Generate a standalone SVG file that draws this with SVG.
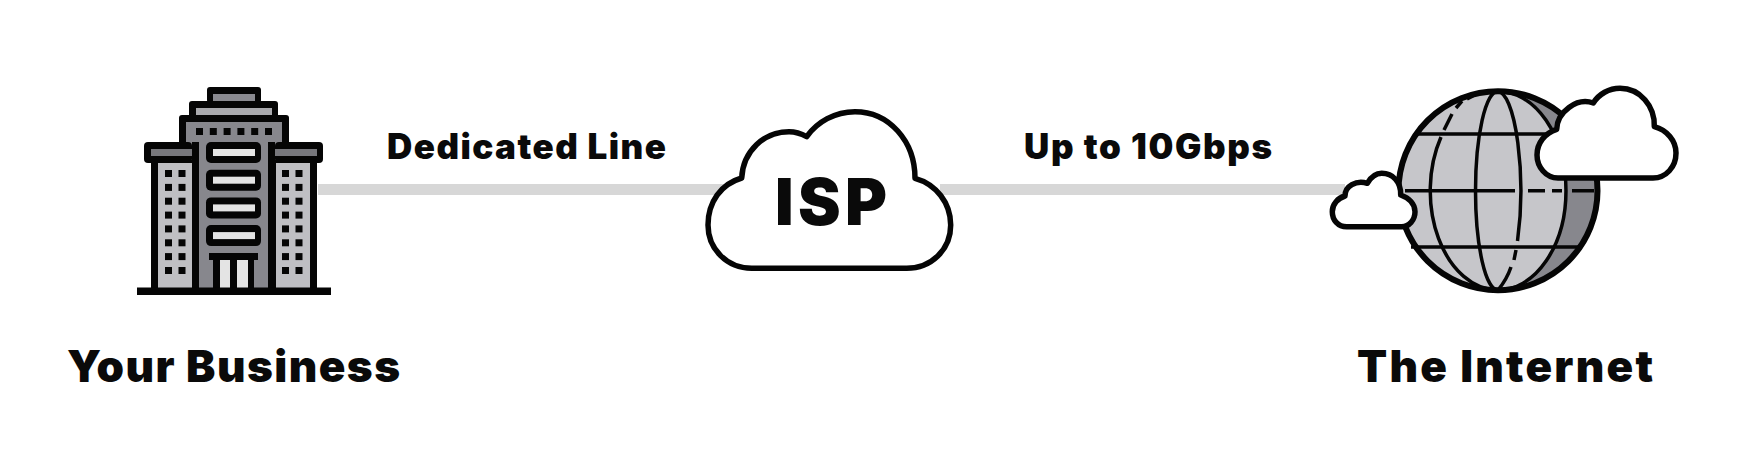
<svg xmlns="http://www.w3.org/2000/svg" width="1746" height="470" viewBox="0 0 1746 470">
<defs>
<style>
text{font-family:Inter,"Liberation Sans",sans-serif;font-weight:900;fill:#0a0a0a}
.t{font-size:44px}.m{font-size:35px}
.k{fill:#050505}.cl{fill:#fff;stroke:#050505;stroke-width:5.500;stroke-linejoin:round}
.gl{fill:none;stroke:#050505;stroke-width:3.500}
.c{stroke:#d7d7d7;stroke-width:11;fill:none}
</style>
<g id="w"><rect x="0" y="0" width="7" height="7" class="k"/><rect x="13.500" y="0" width="7" height="7" class="k"/></g>
<g id="b"><rect x="206" y="142" width="55" height="21" rx="5" class="k"/><rect x="213" y="149" width="42" height="7" fill="#e4e4e4"/></g>
</defs>
<rect width="1746" height="470" fill="#fff"/>
<g id="connectors">
<path class="c" d="M318 189.500H725"/>
<path class="c" d="M940 189.500H1345"/>
</g>
<g id="business">
<rect x="207" y="87" width="54" height="16" rx="3" class="k"/><rect x="213" y="94" width="42" height="7" fill="#8a8a90"/>
<rect x="189" y="101" width="89" height="20" rx="3" class="k"/><rect x="196" y="108" width="76" height="7" fill="#a9a9ad"/>
<rect x="179" y="115" width="110" height="35" rx="3" class="k"/>
<rect x="186" y="122" width="96" height="24" fill="#87878d"/>
<rect x="144" y="142" width="48" height="21" rx="4" class="k"/><rect x="275" y="142" width="48" height="21" rx="4" class="k"/>
<rect x="151" y="149" width="41" height="7" fill="#77777c"/><rect x="275" y="149" width="42" height="7" fill="#77777c"/>
<rect x="151" y="160" width="48" height="130" class="k"/><rect x="268" y="160" width="49" height="130" class="k"/>
<rect x="158" y="163" width="34" height="125" fill="#bfbfc3"/><rect x="276" y="163" width="34" height="125" fill="#bfbfc3"/>
<rect x="192" y="142" width="83" height="148" class="k"/><rect x="199" y="142" width="69" height="146" fill="#87878d"/>
<rect x="186" y="122" width="96" height="20" fill="#87878d"/>
<g class="k"><rect x="196" y="128" width="7" height="7"/><rect x="209.800" y="128" width="7" height="7"/><rect x="223.600" y="128" width="7" height="7"/><rect x="237.400" y="128" width="7" height="7"/><rect x="251.200" y="128" width="7" height="7"/><rect x="265" y="128" width="7" height="7"/></g>
<use href="#b"/><use href="#b" y="27.700"/><use href="#b" y="55.400"/><use href="#b" y="83.100"/>
<rect x="209" y="253" width="49" height="7" class="k"/>
<rect x="213" y="258" width="41" height="31" class="k"/>
<rect x="220" y="260" width="10" height="28" fill="#e4e4e4"/><rect x="237" y="260" width="11" height="28" fill="#e4e4e4"/>
<use href="#w" x="165" y="170"/><use href="#w" x="165" y="183.900"/><use href="#w" x="165" y="197.700"/><use href="#w" x="165" y="211.600"/><use href="#w" x="165" y="225.400"/><use href="#w" x="165" y="239.300"/><use href="#w" x="165" y="253.100"/><use href="#w" x="165" y="267"/>
<use href="#w" x="282" y="170"/><use href="#w" x="282" y="183.900"/><use href="#w" x="282" y="197.700"/><use href="#w" x="282" y="211.600"/><use href="#w" x="282" y="225.400"/><use href="#w" x="282" y="239.300"/><use href="#w" x="282" y="253.100"/><use href="#w" x="282" y="267"/>
<rect x="137" y="287.500" width="194" height="7.500" class="k"/>
<text class="t" x="67" y="381.500" textLength="333">Your Business</text>
</g>
<g id="isp">
<path class="cl" d="M741.700 178C743 151 764 131.700 789 131.700C795 131.700 801 133.500 806.700 136.700C817 122 835 111.700 855 111.700C889 111.700 915 141 915 178.300C936 184 950.700 203 950.700 225C950.700 250 931 268.300 906.700 268.300H751.700C727 268.300 708 249 708 225C708 202 721 184 741.700 178Z"/>
<text x="775" y="225" font-size="64" textLength="112">ISP</text>
</g>
<g id="internet">
<circle cx="1498" cy="190.700" r="99.500" fill="#c6c6ca"/>
<path d="M1498 91.200A99.500 99.500 0 0 1 1498 290.200A68 99.500 0 0 0 1498 91.200Z" fill="#87878d"/>
<path class="gl" d="M1498 91.200A22.500 99.500 0 0 0 1498 290.200"/>
<path class="gl" d="M1498 91.200A23.500 99.500 0 0 1 1517.500 241"/>
<path class="gl" d="M1516 250L1514 260M1511 267C1508 276 1503 284 1498 290.200"/>
<path class="gl" d="M1498 91.200A68 99.500 0 0 1 1498 290.200A68 99.500 0 0 1 1441 137"/>
<path class="gl" d="M1444 130L1452 114M1456 108L1462 101M1467 99L1473 96"/>
<path class="gl" d="M1417 134H1550M1405 190.700H1515M1528 190.700H1545M1552 190.700H1562M1572 190.700H1594M1411 247H1578"/>
<circle cx="1498" cy="190.700" r="99.500" fill="none" stroke="#050505" stroke-width="6"/>
<path class="cl" d="M1345 196C1345 186 1356 180 1367.300 183.300C1371 177 1376 173.300 1381.700 173.300C1393 173.300 1401 182 1400.700 195C1409 198 1415 204 1415 211.700C1415 220 1409 226.700 1401.700 226.700H1346.700C1338 226.700 1332.300 220 1332.300 211.700C1332.300 204 1338 198 1345 196Z"/>
<path class="cl" d="M1556.700 129.300C1557 112 1577 97 1593.300 103C1599 94 1609 88.300 1620 88.300C1640 88.300 1655 106 1654.300 126.700C1667 130 1676 141 1676 153C1676 167 1666 178 1653 178H1558C1546 178 1537 167 1537 155C1537 143 1545 133 1556.700 129.300Z"/>
<text class="t" x="1357" y="381.500" textLength="296">The Internet</text>
</g>
<text class="m" x="387" y="159" textLength="279">Dedicated Line</text>
<text class="m" x="1024" y="159" textLength="248">Up to 10Gbps</text>
</svg>
